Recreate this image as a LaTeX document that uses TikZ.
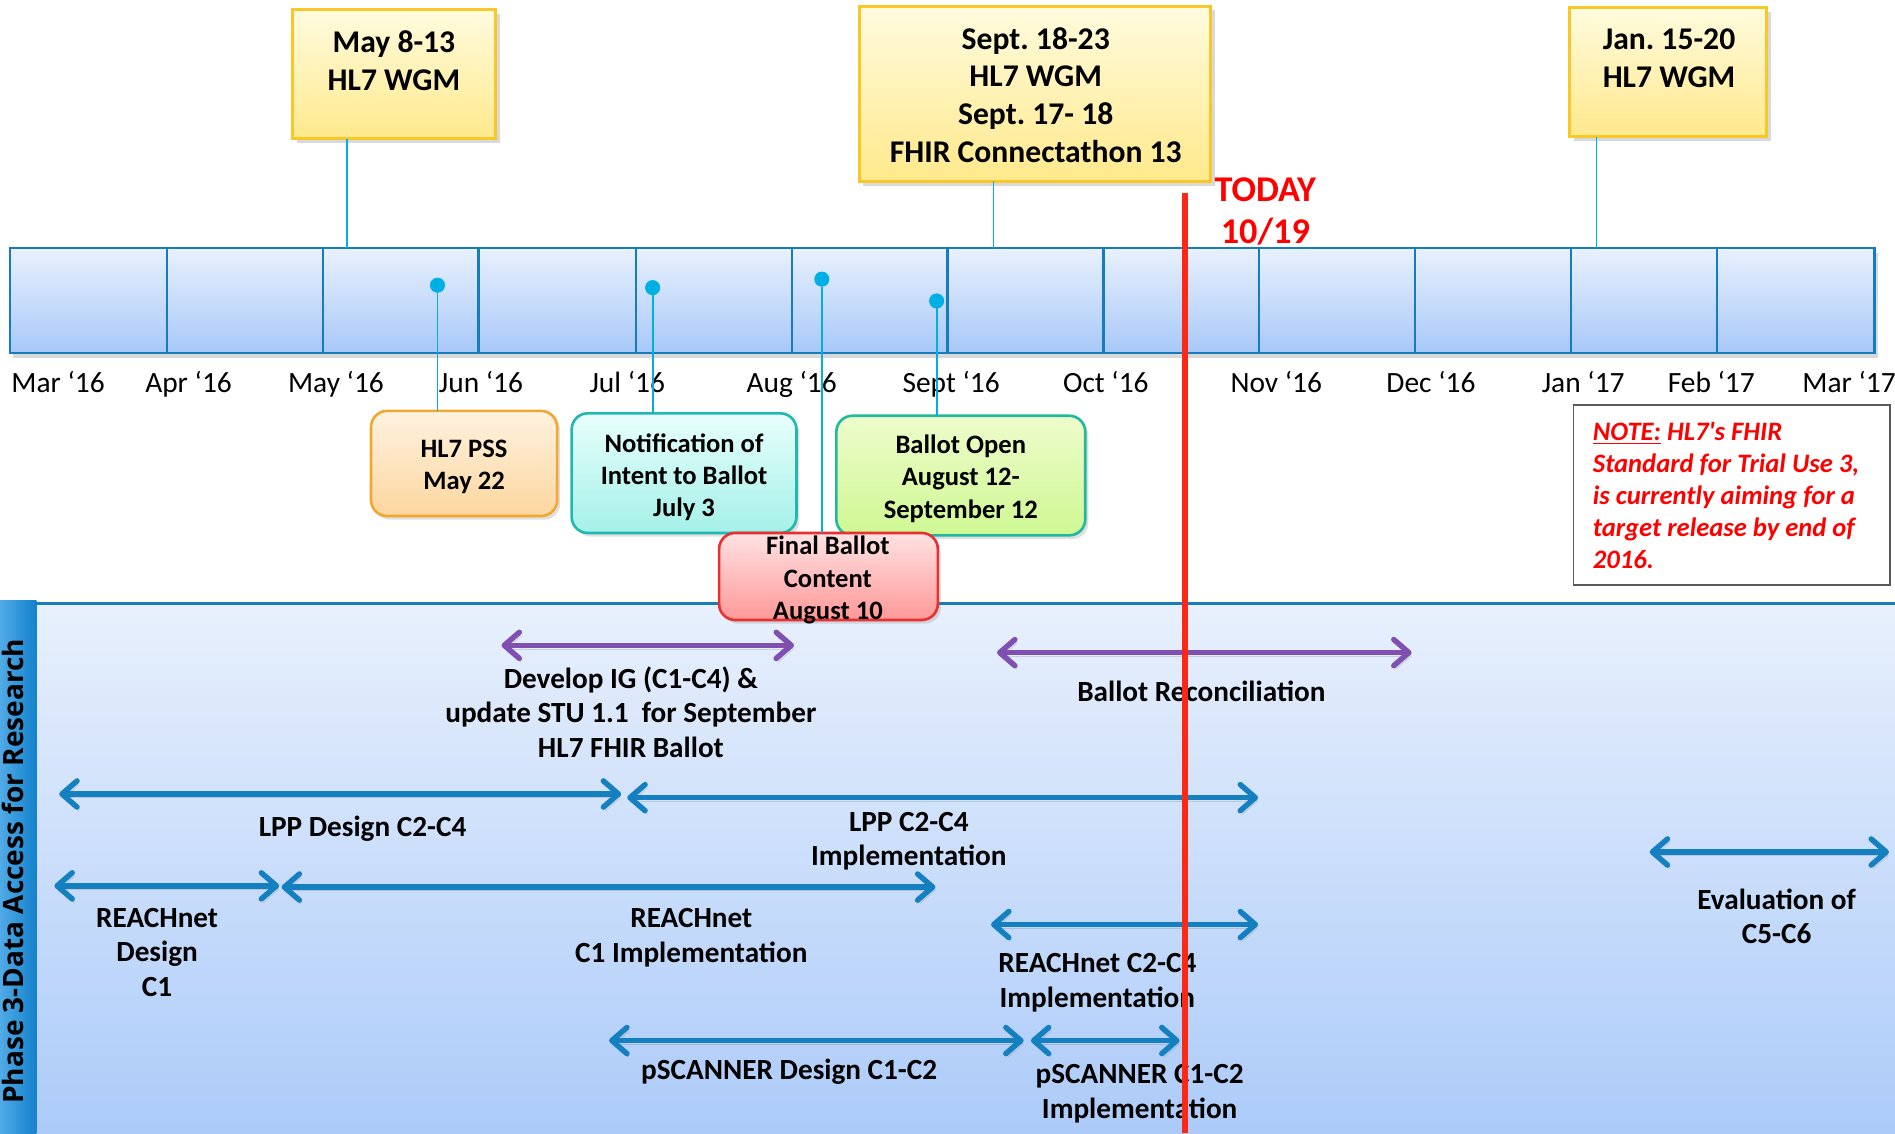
\documentclass[tikz,border=0pt]{standalone}
\usepackage{fontspec}
\setmainfont{Carlito}
\newfontfamily\phasefont{Open Sans}
\usetikzlibrary{arrows.meta,shadows,fit}
\definecolor{ytop}{RGB}{255,251,222}
\definecolor{ybot}{RGB}{255,233,140}
\definecolor{ybord}{RGB}{248,200,40}
\definecolor{bartop}{RGB}{233,241,253}
\definecolor{barbot}{RGB}{168,200,248}
\definecolor{barbord}{RGB}{22,124,190}
\definecolor{pincol}{RGB}{0,176,228}
\definecolor{otop}{RGB}{255,242,224}
\definecolor{obot}{RGB}{252,214,158}
\definecolor{obord}{RGB}{240,168,48}
\definecolor{ctop}{RGB}{232,255,252}
\definecolor{cbot}{RGB}{164,240,232}
\definecolor{cbord}{RGB}{32,184,176}
\definecolor{gtop}{RGB}{238,252,204}
\definecolor{gbot}{RGB}{206,248,146}
\definecolor{gbord}{RGB}{32,184,160}
\definecolor{rtop}{RGB}{255,226,226}
\definecolor{rbot}{RGB}{255,152,152}
\definecolor{rbord}{RGB}{232,48,48}
\definecolor{ptop}{RGB}{232,240,252}
\definecolor{pbot}{RGB}{172,203,249}
\definecolor{purp}{RGB}{128,80,176}
\definecolor{barrow}{RGB}{20,128,192}
\definecolor{todayred}{RGB}{250,40,20}
\definecolor{notered}{RGB}{255,0,0}
\definecolor{phl}{RGB}{80,170,230}
\definecolor{phr}{RGB}{20,130,205}
\begin{document}
\frenchspacing
\begin{tikzpicture}[x=0.6pt,y=-0.6pt,
  every node/.style={inner sep=0pt,outer sep=0pt},
  ybox/.style={draw=ybord,line width=1.5pt,top color=ytop,bottom color=ybot,
    drop shadow={shadow xshift=2pt,shadow yshift=-2.2pt,opacity=0.3}},
  ytext/.style={font=\fontsize{15.7}{18.7}\selectfont\bfseries,align=center},
  month/.style={font=\fontsize{14.6}{17}\selectfont},
  barbg/.style={top color=bartop,bottom color=barbot,
    drop shadow={shadow xshift=1.5pt,shadow yshift=-2.5pt,opacity=0.3}},
  cell/.style={draw=barbord,line width=1.1pt},
  rbox/.style={rounded corners=8pt,line width=1.3pt,
    drop shadow={shadow xshift=1.5pt,shadow yshift=-1.8pt,opacity=0.25}},
  btext/.style={font=\fontsize{13.2}{16}\selectfont\bfseries,align=center},
  ltext/.style={font=\fontsize{14.5}{17.1}\selectfont\bfseries,align=center},
  dot/.style={circle,fill=pincol,minimum size=7.5pt},
  pinline/.style={draw=pincol,line width=0.9pt},
  barb/.tip={Straight Barb[length=7.5pt,width=13pt,line cap=round,line join=round]},
  span/.style={line width=2.7pt,barb-barb,
    preaction={draw=black!60,opacity=0.22,transform canvas={shift={(1pt,-1.8pt)}}}},
  pspan/.style={span,draw=purp},
  bspan/.style={span,draw=barrow},
  panel/.style={top color=ptop,bottom color=pbot},
  phasebar/.style={left color=phl,right color=phr},
  phasetext/.style={font={\phasefont\fontsize{13.9}{16}\selectfont\bfseries}},
  panelline/.style={draw=barbord,line width=1.5pt},
  notebox/.style={draw=black!65,line width=0.9pt,fill=white},
  notetext/.style={font=\fontsize{13.2}{15.9}\selectfont\bfseries\itshape,text=notered,align=left},
  todayline/.style={draw=todayred,line width=3.3pt},
  todaytext/.style={font=\fontsize{18}{21}\selectfont\bfseries,text=notered,align=center}
]
\useasboundingbox (0,0) rectangle (1568,937.5);

% lower panel
\node[panel,fit={(0,499) (1568,937.5)}] (panel) {};
\node[phasebar,fit={(0,497) (30,937.5)}] (phase) {};
\node[phasetext,rotate=90] (phaselab) at (10.5,721) {Phase 3-Data Access for Research};
\draw[panelline] (panel.north west -| phase.east) -- (panel.north east);

% timeline bar
\node[barbg,fit={(8,205) (1551,292)}] (bar) {};
\foreach \a/\b [count=\i] in {8/138,138/267,267/396,396/526,526/655,655/784,784/913,913/1042,1042/1171,1171/1300,1300/1421,1421/1551}
  \node[cell,fit={(\a,205) (\b,292)}] (m\i) {};
\foreach \x/\t [count=\i] in {48/Mar ‘16,156/Apr ‘16,278/May ‘16,398/Jun ‘16,519/Jul ‘16,655/Aug ‘16,787/Sept ‘16,915/Oct ‘16,1056/Nov ‘16,1184/Dec ‘16,1310/Jan ‘17,1416/Feb ‘17,1530/Mar ‘17}
  \node[month,anchor=base] (ml\i) at (\x,325) {\t};

% meeting boxes
\node[ybox,fit={(242,8) (410,115)}] (may) {};
\node[ytext] (maytxt) at (326,50) {May 8-13\\HL7 WGM};
\node[ybox,fit={(711,5) (1002,150)}] (sept) {};
\node[ytext] (septtxt) at (857,78.5) {Sept. 18-23\\HL7 WGM\\Sept. 17- 18\\FHIR Connectathon 13};
\node[ybox,fit={(1299,6) (1462,113)}] (jan) {};
\node[ytext] (jantxt) at (1381,48) {Jan. 15-20\\HL7 WGM};
\coordinate (cmay) at (287,0);
\coordinate (csept) at (822,0);
\coordinate (cjan) at (1321,0);
\draw[pinline] (may.south -| cmay) -- (bar.north -| cmay);
\draw[pinline] (sept.south -| csept) -- (bar.north -| csept);
\draw[pinline] (jan.south -| cjan) -- (bar.north -| cjan);

% milestone boxes
\node[rbox,draw=obord,top color=otop,bottom color=obot,fit={(307,340) (461,427)}] (pss) {};
\node[btext] (psstxt) at (384,386) {HL7 PSS\\May 22};
\node[rbox,draw=cbord,top color=ctop,bottom color=cbot,fit={(473,342) (659,441)}] (noti) {};
\node[btext] (notitxt) at (566,395) {Notification of\\Intent to Ballot\\July 3};
\node[rbox,draw=gbord,top color=gtop,bottom color=gbot,fit={(692,344) (898,443)}] (bopen) {};
\node[btext] (bopentxt) at (795,396) {Ballot Open\\August 12-\\September 12};
\node[rbox,draw=rbord,top color=rtop,bottom color=rbot,fit={(595,441) (776,513)}] (final) {};
\node[btext] (finaltxt) at (685,480) {Final Ballot\\Content\\August 10};

% pins
\node[dot] (d1) at (362,236) {};
\node[dot] (d2) at (540,238) {};
\node[dot] (d3) at (680,231) {};
\node[dot] (d4) at (775,249) {};
\draw[pinline] (d1) -- (pss.north -| d1);
\draw[pinline] (d2) -- (noti.north -| d2);
\draw[pinline] (d3) -- (final.north -| d3);
\draw[pinline] (d4) -- (bopen.north -| d4);

% note
\node[notebox,fit={(1302,335) (1564,484)}] (note) {};
\node[notetext,anchor=west] (notetxt) at (1318,410) {\underline{NOTE:} HL7\textquotesingle s FHIR\\Standard for Trial Use 3,\\is currently aiming for a\\target release by end of\\2016.};

% activity spans
\coordinate (a1l) at (415,534); \coordinate (a1r) at (657,534);
\draw[pspan] (a1l) -- (a1r);
\node[ltext] (a1t) at (522,589) {Develop IG (C1-C4) \&\\update STU 1.1\ \ for September\\HL7 FHIR Ballot};
\coordinate (a2l) at (825,540); \coordinate (a2r) at (1168,540);
\draw[pspan] (a2l) -- (a2r);
\node[ltext] (a2t) at (994,572) {Ballot Reconciliation};
\coordinate (a3l) at (49,657); \coordinate (a3r) at (514,657);
\draw[bspan] (a3l) -- (a3r);
\node[ltext] (a3t) at (300,685.5) {LPP Design C2-C4};
\coordinate (a4l) at (519,660); \coordinate (a4r) at (1041,660);
\draw[bspan] (a4l) -- (a4r);
\node[ltext] (a4t) at (752,696) {LPP C2-C4\\Implementation};
\coordinate (a5l) at (45,733); \coordinate (a5r) at (231,733);
\draw[bspan] (a5l) -- (a5r);
\node[ltext] (a5t) at (130,788) {REACHnet\\Design\\C1};
\coordinate (a6l) at (233,734); \coordinate (a6r) at (774,734);
\draw[bspan] (a6l) -- (a6r);
\node[ltext] (a6t) at (572,776) {REACHnet\\C1 Implementation};
\coordinate (a7l) at (820,765); \coordinate (a7r) at (1041,765);
\draw[bspan] (a7l) -- (a7r);
\node[ltext] (a7t) at (908,813) {REACHnet C2-C4\\Implementation};
\coordinate (a8l) at (1365,705); \coordinate (a8r) at (1563,705);
\draw[bspan] (a8l) -- (a8r);
\node[ltext] (a8t) at (1470,758) {Evaluation of\\C5-C6};
\coordinate (a9l) at (504,861); \coordinate (a9r) at (847,861);
\draw[bspan] (a9l) -- (a9r);
\node[ltext] (a9t) at (653,887) {pSCANNER Design C1-C2};
\coordinate (a10l) at (853,861); \coordinate (a10r) at (976,861);
\draw[bspan] (a10l) -- (a10r);
\node[ltext] (a10t) at (943,905) {pSCANNER C1-C2\\Implementation};

% today
\coordinate (tt) at (980.5,160);
\coordinate (tb) at (980.5,937.5);
\draw[todayline] (tt) -- (tb);
\node[todaytext] (today) at (1047,175) {TODAY\\10/19};
\end{tikzpicture}
\end{document}
